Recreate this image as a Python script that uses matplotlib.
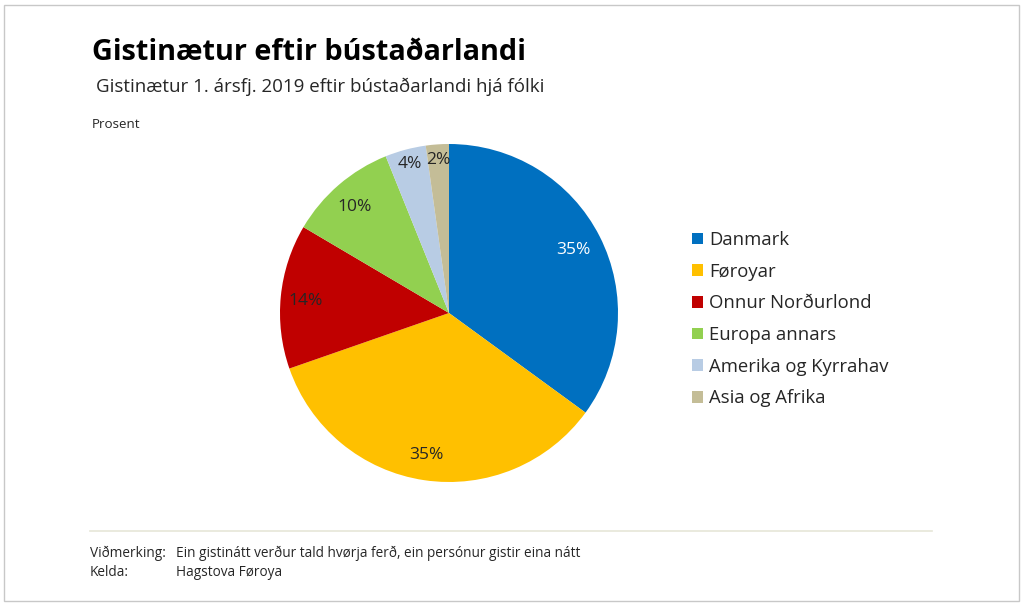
import matplotlib.pyplot as plt
from matplotlib.patches import Rectangle
from matplotlib.lines import Line2D

plt.rcParams['font.family'] = ['Open Sans', 'DejaVu Sans']

# data
lond = ['Danmark', 'Føroyar', 'Onnur Norðurlond', 'Europa annars',
        'Amerika og Kyrrahav', 'Asia og Afrika']
prosent = [35.0, 34.6, 13.8, 10.4, 3.9, 2.2]
litir = ['#0070C0', '#FFC000', '#C00000', '#92D050', '#B8CCE4', '#C4BD97']

W, H = 1024, 605
fig = plt.figure(figsize=(W / 100, H / 100), dpi=100)

# frame round the whole picture
fig.patches.append(Rectangle((4 / W, 4 / H), 1015 / W, 596 / H, transform=fig.transFigure,
                             fill=False, edgecolor='#c8c8c8', linewidth=1))

cx, cy, r = 449, 313, 169
ax = fig.add_axes([(cx - r) / W, (H - cy - r) / H, 2 * r / W, 2 * r / H])
wedges, texts, autotexts = ax.pie(prosent, colors=litir, startangle=90, counterclock=False,
                                  autopct=lambda p: '%.0f%%' % p, pctdistance=0.84,
                                  radius=1, textprops={'fontsize': 12.5, 'color': '#262626'})
autotexts[0].set_color('white')
# small slices have their labels a bit further out
for t in autotexts[4:]:
    x, y = t.get_position()
    t.set_position((x * 0.91 / 0.84, y * 0.91 / 0.84))
for t in autotexts[:4]:
    x, y = t.get_position()
    t.set_position((x - 0.01, y - 0.01))
ax.set_xlim(-1, 1)
ax.set_ylim(-1, 1)
ax.set_aspect('equal')
ax.axis('off')

fig.legend(wedges, lond, loc='upper left', bbox_to_anchor=(692 / W, 1 - 231 / H),
           frameon=False, fontsize=13.3, handlelength=0.62, handleheight=0.62,
           handletextpad=0.3, labelspacing=0.74, borderpad=0, borderaxespad=0,
           labelcolor='#262626')

fig.text(92 / W, 1 - 52 / H, 'Gistinætur eftir bústaðarlandi', fontsize=20.8, fontweight='bold',
         va='center', ha='left', color='black')
fig.text(96 / W, 1 - 87 / H, 'Gistinætur 1. ársfj. 2019 eftir bústaðarlandi hjá fólki',
         fontsize=13.5, va='center', ha='left', color='#262626')
fig.text(92 / W, 1 - 125 / H, 'Prosent', fontsize=9.6, va='center', ha='left', color='#262626')

fig.lines.append(Line2D([90 / W, 932 / W], [1 - 531 / H, 1 - 531 / H], transform=fig.transFigure,
                        color='#e6e6d8', linewidth=1.2))
fig.text(90 / W, 1 - 553 / H, 'Viðmerking:', fontsize=9.8, va='center', ha='left', color='#262626')
fig.text(176 / W, 1 - 553 / H, 'Ein gistinátt verður tald hvørja ferð, ein persónur gistir eina nátt',
         fontsize=9.8, va='center', ha='left', color='#262626')
fig.text(90 / W, 1 - 573 / H, 'Kelda:', fontsize=9.8, va='center', ha='left', color='#262626')
fig.text(176 / W, 1 - 573 / H, 'Hagstova Føroya', fontsize=9.8, va='center', ha='left', color='#262626')

fig.savefig('out.png', dpi=100)
